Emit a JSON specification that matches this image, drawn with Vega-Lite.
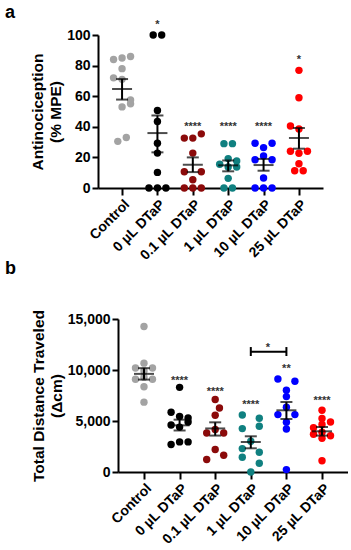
{
  "$schema": "https://vega.github.io/schema/vega-lite/v6.json",
  "padding": {"left": 5, "top": 3, "right": 0, "bottom": 0},
  "spacing": -4,
  "config": {
    "view": {"stroke": null},
    "font": "Liberation Sans",
    "axis": {"domainColor": "black", "domainWidth": 2, "tickColor": "black", "tickWidth": 2, "labelColor": "black", "labelFont": "Liberation Sans", "labelFontWeight": "bold", "labelFontSize": 14, "titleFont": "Liberation Sans", "titleColor": "black", "titleFontWeight": "bold", "grid": false, "labelOverlap": false},
    "title": {"font": "Liberation Sans", "fontWeight": "bold", "fontSize": 18, "color": "black", "anchor": "start", "frame": "group"}
  },
  "datasets": {
    "ptsA": [
      {"g": "Control", "v": 84, "s": -1}, {"g": "Control", "v": 85, "s": 0}, {"g": "Control", "v": 86, "s": 1},
      {"g": "Control", "v": 78, "s": 0}, {"g": "Control", "v": 72, "s": -1}, {"g": "Control", "v": 71, "s": 0},
      {"g": "Control", "v": 57.5, "s": 1}, {"g": "Control", "v": 53, "s": 0}, {"g": "Control", "v": 55, "s": 1},
      {"g": "Control", "v": 30.5, "s": -0.5}, {"g": "Control", "v": 33, "s": 0.5},
      {"g": "0 µL DTaP", "v": 100, "s": -0.5}, {"g": "0 µL DTaP", "v": 100, "s": 0.5}, {"g": "0 µL DTaP", "v": 50.6, "s": 0},
      {"g": "0 µL DTaP", "v": 43.5, "s": 0}, {"g": "0 µL DTaP", "v": 29.3, "s": 0}, {"g": "0 µL DTaP", "v": 22.8, "s": 0},
      {"g": "0 µL DTaP", "v": 10.2, "s": 0}, {"g": "0 µL DTaP", "v": 0, "s": -1}, {"g": "0 µL DTaP", "v": 0, "s": 0}, {"g": "0 µL DTaP", "v": 0, "s": 1},
      {"g": "0.1 µL DTaP", "v": 32.6, "s": -1}, {"g": "0.1 µL DTaP", "v": 32.6, "s": 0}, {"g": "0.1 µL DTaP", "v": 35.4, "s": 1},
      {"g": "0.1 µL DTaP", "v": 22.8, "s": 0}, {"g": "0.1 µL DTaP", "v": 10.6, "s": -1}, {"g": "0.1 µL DTaP", "v": 10.6, "s": 1},
      {"g": "0.1 µL DTaP", "v": 5.4, "s": 0}, {"g": "0.1 µL DTaP", "v": 0, "s": -1}, {"g": "0.1 µL DTaP", "v": 0, "s": 0}, {"g": "0.1 µL DTaP", "v": 0, "s": 1},
      {"g": "1 µL DTaP", "v": 29, "s": -0.5}, {"g": "1 µL DTaP", "v": 29, "s": 0.5}, {"g": "1 µL DTaP", "v": 19.2, "s": 0},
      {"g": "1 µL DTaP", "v": 15.5, "s": -1}, {"g": "1 µL DTaP", "v": 17.6, "s": 1}, {"g": "1 µL DTaP", "v": 13.7, "s": 0},
      {"g": "1 µL DTaP", "v": 13.7, "s": 1}, {"g": "1 µL DTaP", "v": 6.3, "s": 0}, {"g": "1 µL DTaP", "v": 0, "s": -0.5}, {"g": "1 µL DTaP", "v": 0, "s": 0.5},
      {"g": "10 µL DTaP", "v": 29.2, "s": -1}, {"g": "10 µL DTaP", "v": 29.2, "s": 1}, {"g": "10 µL DTaP", "v": 26.4, "s": 0},
      {"g": "10 µL DTaP", "v": 20.9, "s": 0}, {"g": "10 µL DTaP", "v": 18.5, "s": -1}, {"g": "10 µL DTaP", "v": 18.5, "s": 1},
      {"g": "10 µL DTaP", "v": 6.5, "s": 0}, {"g": "10 µL DTaP", "v": 0, "s": -1}, {"g": "10 µL DTaP", "v": 0, "s": 0}, {"g": "10 µL DTaP", "v": 0, "s": 1},
      {"g": "25 µL DTaP", "v": 76.9, "s": 0}, {"g": "25 µL DTaP", "v": 59, "s": 0}, {"g": "25 µL DTaP", "v": 40.5, "s": -1},
      {"g": "25 µL DTaP", "v": 38.6, "s": 0}, {"g": "25 µL DTaP", "v": 24, "s": -1}, {"g": "25 µL DTaP", "v": 22.7, "s": 0},
      {"g": "25 µL DTaP", "v": 24, "s": 1}, {"g": "25 µL DTaP", "v": 15.9, "s": 0}, {"g": "25 µL DTaP", "v": 11.3, "s": -0.5}, {"g": "25 µL DTaP", "v": 11.3, "s": 0.5}
    ],
    "sumA": [
      {"g": "Control", "mean": 64.7, "lo": 57.8, "hi": 71.2},
      {"g": "0 µL DTaP", "mean": 35.9, "lo": 23.3, "hi": 47.4},
      {"g": "0.1 µL DTaP", "mean": 15.2, "lo": 10.4, "hi": 20.0},
      {"g": "1 µL DTaP", "mean": 14.8, "lo": 10.9, "hi": 18.0},
      {"g": "10 µL DTaP", "mean": 15.0, "lo": 11.3, "hi": 19.0},
      {"g": "25 µL DTaP", "mean": 32.7, "lo": 25.7, "hi": 39.2}
    ],
    "starsA": [
      {"g": "0 µL DTaP", "v": 108.5, "t": "*"},
      {"g": "0.1 µL DTaP", "v": 42, "t": "****"},
      {"g": "1 µL DTaP", "v": 42, "t": "****"},
      {"g": "10 µL DTaP", "v": 42, "t": "****"},
      {"g": "25 µL DTaP", "v": 85.4, "t": "*"}
    ],
    "ptsB": [
      {"g": "Control", "v": 14270, "s": 0}, {"g": "Control", "v": 10670, "s": 0}, {"g": "Control", "v": 10200, "s": -1},
      {"g": "Control", "v": 10200, "s": 1}, {"g": "Control", "v": 9900, "s": 0}, {"g": "Control", "v": 9100, "s": -1},
      {"g": "Control", "v": 9100, "s": 1}, {"g": "Control", "v": 9300, "s": 0}, {"g": "Control", "v": 8350, "s": 0}, {"g": "Control", "v": 6850, "s": 0},
      {"g": "0 µL DTaP", "v": 8300, "s": 0}, {"g": "0 µL DTaP", "v": 5850, "s": -1}, {"g": "0 µL DTaP", "v": 5450, "s": 0},
      {"g": "0 µL DTaP", "v": 5300, "s": 1}, {"g": "0 µL DTaP", "v": 4900, "s": 1}, {"g": "0 µL DTaP", "v": 4600, "s": -1},
      {"g": "0 µL DTaP", "v": 4400, "s": 0}, {"g": "0 µL DTaP", "v": 2700, "s": -1}, {"g": "0 µL DTaP", "v": 2950, "s": 0}, {"g": "0 µL DTaP", "v": 2950, "s": 1},
      {"g": "0.1 µL DTaP", "v": 7100, "s": 0}, {"g": "0.1 µL DTaP", "v": 6270, "s": 0.5}, {"g": "0.1 µL DTaP", "v": 5560, "s": 0},
      {"g": "0.1 µL DTaP", "v": 3820, "s": -1}, {"g": "0.1 µL DTaP", "v": 3820, "s": 1}, {"g": "0.1 µL DTaP", "v": 4160, "s": 0},
      {"g": "0.1 µL DTaP", "v": 2200, "s": 0}, {"g": "0.1 µL DTaP", "v": 1220, "s": -1}, {"g": "0.1 µL DTaP", "v": 1640, "s": 1},
      {"g": "1 µL DTaP", "v": 5590, "s": -1}, {"g": "1 µL DTaP", "v": 5265, "s": 1}, {"g": "1 µL DTaP", "v": 4255, "s": -1},
      {"g": "1 µL DTaP", "v": 4480, "s": 1}, {"g": "1 µL DTaP", "v": 3010, "s": 0}, {"g": "1 µL DTaP", "v": 2294, "s": -1},
      {"g": "1 µL DTaP", "v": 1931, "s": 1}, {"g": "1 µL DTaP", "v": 1441, "s": -1}, {"g": "1 µL DTaP", "v": 853, "s": 1}, {"g": "1 µL DTaP", "v": 0, "s": 0},
      {"g": "10 µL DTaP", "v": 9118, "s": -1}, {"g": "10 µL DTaP", "v": 8892, "s": 1}, {"g": "10 µL DTaP", "v": 8010, "s": 0},
      {"g": "10 µL DTaP", "v": 7392, "s": 0}, {"g": "10 µL DTaP", "v": 6343, "s": 0}, {"g": "10 µL DTaP", "v": 5627, "s": -1},
      {"g": "10 µL DTaP", "v": 5627, "s": 1}, {"g": "10 µL DTaP", "v": 4873, "s": 0}, {"g": "10 µL DTaP", "v": 4216, "s": 0}, {"g": "10 µL DTaP", "v": 235, "s": 0},
      {"g": "25 µL DTaP", "v": 6050, "s": 0}, {"g": "25 µL DTaP", "v": 5250, "s": 0}, {"g": "25 µL DTaP", "v": 4900, "s": 1},
      {"g": "25 µL DTaP", "v": 4350, "s": -1}, {"g": "25 µL DTaP", "v": 4650, "s": 0}, {"g": "25 µL DTaP", "v": 3700, "s": -1},
      {"g": "25 µL DTaP", "v": 3300, "s": 0}, {"g": "25 µL DTaP", "v": 3550, "s": 1}, {"g": "25 µL DTaP", "v": 3900, "s": 0}, {"g": "25 µL DTaP", "v": 1100, "s": 0}
    ],
    "sumB": [
      {"g": "Control", "mean": 9620, "lo": 9060, "hi": 10180},
      {"g": "0 µL DTaP", "mean": 4575, "lo": 4070, "hi": 5130},
      {"g": "0.1 µL DTaP", "mean": 4270, "lo": 3570, "hi": 4870},
      {"g": "1 µL DTaP", "mean": 2941, "lo": 2324, "hi": 3500},
      {"g": "10 µL DTaP", "mean": 6049, "lo": 5196, "hi": 6863},
      {"g": "25 µL DTaP", "mean": 3990, "lo": 3569, "hi": 4412}
    ],
    "starsB": [
      {"g": "0 µL DTaP", "v": 9216, "t": "****"},
      {"g": "0.1 µL DTaP", "v": 8160, "t": "****"},
      {"g": "1 µL DTaP", "v": 6850, "t": "****"},
      {"g": "10 µL DTaP", "v": 10390, "t": "**"},
      {"g": "25 µL DTaP", "v": 7290, "t": "****"}
    ],
    "bracket": [
      {"g": "1 µL DTaP", "g2": "10 µL DTaP", "v": 11800, "capLo": 11370, "capHi": 12250, "starV": 12490, "t": "*"},
      {"g": "10 µL DTaP", "g2": "10 µL DTaP", "v": 11800, "capLo": 11370, "capHi": 12250, "starV": null, "t": ""}
    ]
  },
  "vconcat": [
    {
      "width": 225,
      "height": 153,
      "title": {"text": "a", "dx": -93, "offset": -3},
      "encoding": {
        "x": {"field": "g", "type": "nominal",
          "scale": {"type": "point", "padding": 0.68, "domain": ["Control", "0 µL DTaP", "0.1 µL DTaP", "1 µL DTaP", "10 µL DTaP", "25 µL DTaP"]},
          "axis": {"title": null, "labelAngle": -45, "tickSize": 7, "labelPadding": 2}},
        "y": {"type": "quantitative", "scale": {"domain": [0, 100], "nice": false},
          "axis": {"title": ["Antinociception", "(% MPE)"], "values": [0, 20, 40, 60, 80, 100], "labelOverlap": false, "tickSize": 6, "labelPadding": 2, "titleFontSize": 15.5, "titleLineHeight": 18, "titlePadding": 3}}
      },
      "layer": [
        {
          "data": {"name": "ptsA"},
          "mark": {"type": "circle", "size": 55, "opacity": 1},
          "encoding": {
            "y": {"field": "v"},
            "xOffset": {"field": "s", "type": "quantitative", "scale": {"domain": [-1, 1], "range": [-8.5, 8.5]}},
            "color": {"field": "g", "type": "nominal", "legend": null,
              "scale": {"domain": ["Control", "0 µL DTaP", "0.1 µL DTaP", "1 µL DTaP", "10 µL DTaP", "25 µL DTaP"],
                "range": ["#a3a3a3", "#000000", "#8b0a0a", "#108080", "#0000ff", "#ff0000"]}}
          }
        },
        {
          "data": {"name": "sumA"},
          "mark": {"type": "rule", "color": "black", "strokeWidth": 2},
          "encoding": {"y": {"field": "lo"}, "y2": {"field": "hi"}}
        },
        {
          "data": {"name": "sumA"},
          "mark": {"type": "tick", "color": "black", "size": 20, "thickness": 2},
          "encoding": {"y": {"field": "mean"}}
        },
        {
          "data": {"name": "sumA"},
          "mark": {"type": "tick", "color": "black", "size": 12, "thickness": 2},
          "encoding": {"y": {"field": "lo"}}
        },
        {
          "data": {"name": "sumA"},
          "mark": {"type": "tick", "color": "black", "size": 12, "thickness": 2},
          "encoding": {"y": {"field": "hi"}}
        },
        {
          "data": {"name": "starsA"},
          "mark": {"type": "text", "fontSize": 11, "fontWeight": "bold", "color": "#333333", "baseline": "middle", "dy": 3},
          "encoding": {"y": {"field": "v"}, "text": {"field": "t"}}
        }
      ]
    },
    {
      "width": 250,
      "height": 153,
      "title": {"text": "b", "dx": -93, "offset": 32},
      "encoding": {
        "x": {"field": "g", "type": "nominal",
          "scale": {"type": "point", "padding": 0.73, "range": [20, 250], "domain": ["Control", "0 µL DTaP", "0.1 µL DTaP", "1 µL DTaP", "10 µL DTaP", "25 µL DTaP"]},
          "axis": {"title": null, "labelAngle": -45, "tickSize": 7, "labelPadding": 2}},
        "y": {"type": "quantitative", "scale": {"domain": [0, 15000], "nice": false},
          "axis": {"title": ["Total Distance Traveled", "(Δcm)"], "values": [0, 5000, 10000, 15000], "format": ",d", "labelOverlap": false, "offset": -20, "tickSize": 6, "labelPadding": 2, "titleFontSize": 15.5, "titleLineHeight": 18, "titlePadding": 3}}
      },
      "layer": [
        {
          "data": {"name": "ptsB"},
          "mark": {"type": "circle", "size": 55, "opacity": 1},
          "encoding": {
            "y": {"field": "v"},
            "xOffset": {"field": "s", "type": "quantitative", "scale": {"domain": [-1, 1], "range": [-8.5, 8.5]}},
            "color": {"field": "g", "type": "nominal", "legend": null,
              "scale": {"domain": ["Control", "0 µL DTaP", "0.1 µL DTaP", "1 µL DTaP", "10 µL DTaP", "25 µL DTaP"],
                "range": ["#a3a3a3", "#000000", "#8b0a0a", "#108080", "#0000ff", "#ff0000"]}}
          }
        },
        {
          "data": {"name": "sumB"},
          "mark": {"type": "rule", "color": "black", "strokeWidth": 2},
          "encoding": {"y": {"field": "lo"}, "y2": {"field": "hi"}}
        },
        {
          "data": {"name": "sumB"},
          "mark": {"type": "tick", "color": "black", "size": 20, "thickness": 2},
          "encoding": {"y": {"field": "mean"}}
        },
        {
          "data": {"name": "sumB"},
          "mark": {"type": "tick", "color": "black", "size": 12, "thickness": 2},
          "encoding": {"y": {"field": "lo"}}
        },
        {
          "data": {"name": "sumB"},
          "mark": {"type": "tick", "color": "black", "size": 12, "thickness": 2},
          "encoding": {"y": {"field": "hi"}}
        },
        {
          "data": {"name": "starsB"},
          "mark": {"type": "text", "fontSize": 11, "fontWeight": "bold", "color": "#333333", "baseline": "middle", "dy": 3},
          "encoding": {"y": {"field": "v"}, "text": {"field": "t"}}
        },
        {
          "data": {"name": "bracket"},
          "transform": [{"filter": "datum.t == '*'"}],
          "mark": {"type": "rule", "color": "black", "strokeWidth": 2},
          "encoding": {"x2": {"field": "g2"}, "y": {"field": "v"}}
        },
        {
          "data": {"name": "bracket"},
          "mark": {"type": "rule", "color": "black", "strokeWidth": 2},
          "encoding": {"y": {"field": "capLo"}, "y2": {"field": "capHi"}}
        },
        {
          "data": {"name": "bracket"},
          "transform": [{"filter": "datum.t == '*'"}],
          "mark": {"type": "text", "fontSize": 11, "fontWeight": "bold", "color": "#333333", "baseline": "middle", "dy": 3, "dx": 17},
          "encoding": {"y": {"field": "starV"}, "text": {"field": "t"}}
        }
      ]
    }
  ]
}
